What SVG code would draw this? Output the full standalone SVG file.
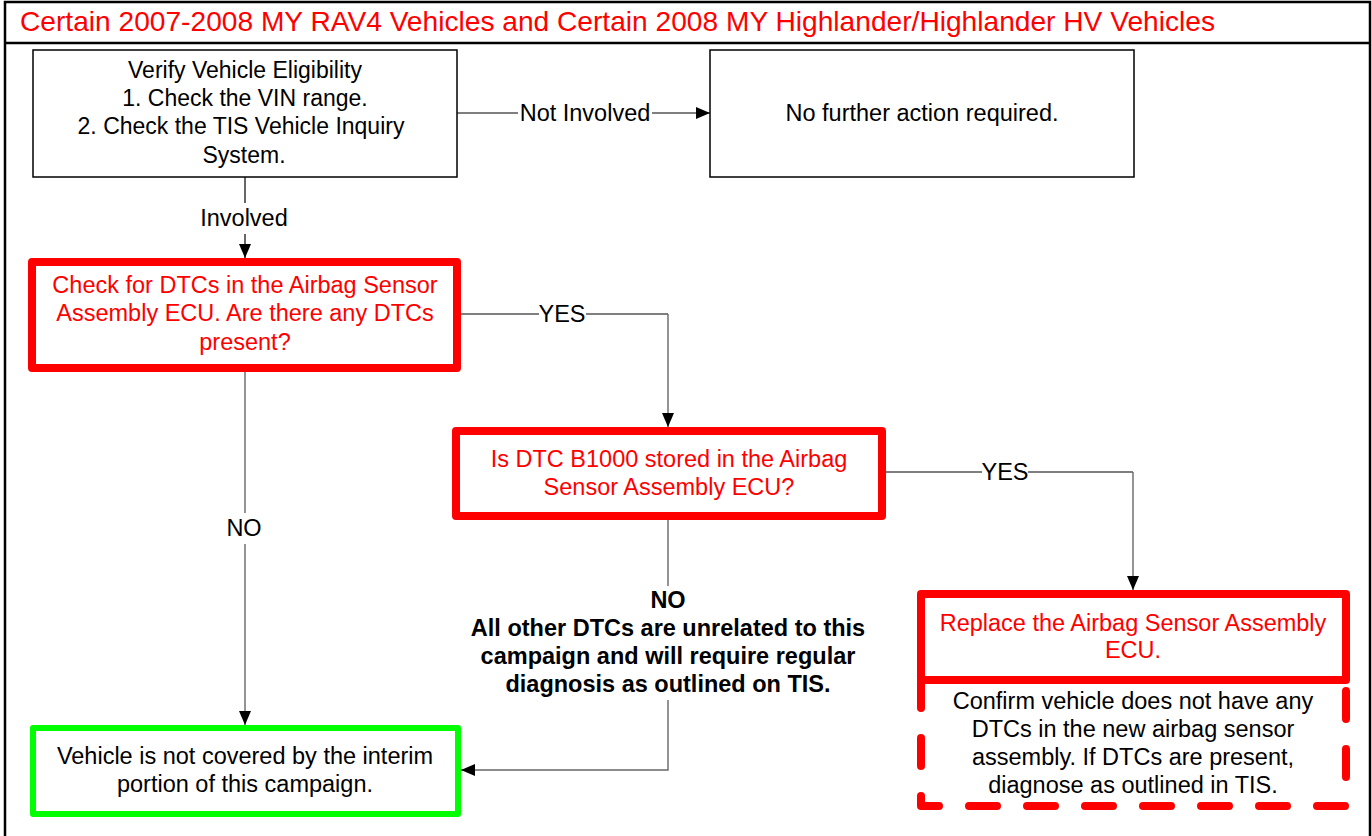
<svg xmlns="http://www.w3.org/2000/svg" width="1372" height="836" viewBox="0 0 1372 836">
<defs>
<style>
text{font-family:"Liberation Sans",Arial,sans-serif;font-size:23.5px;text-anchor:middle;fill:#000}
.t{fill:#f00}
.b{font-weight:bold}
.v{font-size:23px}
.box{fill:#fff;stroke:#000;stroke-width:1.5}
.red{fill:#fff;stroke:#f00;stroke-width:8;stroke-linejoin:round}
.grn{fill:#fff;stroke:#0f0;stroke-width:6;stroke-linejoin:round}
.ln{fill:none;stroke:#000;stroke-width:1.2}
.gl{fill:none;stroke:#666;stroke-width:1.4}
</style>
<marker id="ah" viewBox="0 0 14 12" refX="14" refY="6" markerWidth="14" markerHeight="12" markerUnits="userSpaceOnUse" orient="auto">
<path d="M0,0 L14,6 L0,12 Z" fill="#000"/>
</marker>
</defs>
<rect x="0" y="0" width="1372" height="836" fill="#fff"/>
<g id="frame">
<rect x="5" y="2" width="1365" height="850" fill="none" stroke="#000" stroke-width="2.5"/>
<line x1="5" y1="43" x2="1370" y2="43" stroke="#000" stroke-width="2.5"/>
<text x="20" y="31" class="t" style="text-anchor:start;font-size:28px" textLength="1195" lengthAdjust="spacingAndGlyphs">Certain 2007-2008 MY RAV4 Vehicles and Certain 2008 MY Highlander/Highlander HV Vehicles</text>
</g>
<g id="connectors">
<line class="ln" x1="457" y1="113" x2="518" y2="113"/>
<line class="ln" x1="652" y1="113" x2="710" y2="113" marker-end="url(#ah)"/>
<text x="585" y="121">Not Involved</text>
<line class="ln" x1="245" y1="177" x2="245" y2="203"/>
<line class="ln" x1="245" y1="234" x2="245" y2="258" marker-end="url(#ah)"/>
<text x="244" y="226">Involved</text>
<line class="ln" x1="461" y1="314" x2="539" y2="314"/>
<polyline class="ln" points="586,314 668,314"/>
<line class="gl" x1="668" y1="314" x2="668" y2="427" marker-end="url(#ah)"/>
<text x="562" y="322">YES</text>
<line class="ln" x1="886" y1="472" x2="982" y2="472"/>
<line class="ln" x1="1028" y1="472" x2="1133" y2="472"/>
<line class="gl" x1="1133" y1="472" x2="1133" y2="590" marker-end="url(#ah)"/>
<text x="1005" y="480">YES</text>
<line class="gl" x1="245" y1="372" x2="245" y2="513"/>
<line class="gl" x1="245" y1="544" x2="245" y2="725" marker-end="url(#ah)"/>
<text x="244" y="536">NO</text>
<line class="gl" x1="668" y1="520" x2="668" y2="586"/>
<polyline class="gl" points="668,700 668,770 461,770" marker-end="url(#ah)"/>
<text x="668" y="608" class="b">NO</text>
<text x="668" y="636" class="b">All other DTCs are unrelated to this</text>
<text x="668" y="664" class="b">campaign and will require regular</text>
<text x="668" y="692" class="b">diagnosis as outlined on TIS.</text>
</g>
<g id="verify">
<rect class="box" x="33" y="50" width="424" height="127"/>
<text x="245" y="78" class="v">Verify Vehicle Eligibility</text>
<text x="245" y="106" class="v">1. Check the VIN range.</text>
<text x="241" y="134" class="v">2. Check the TIS Vehicle Inquiry</text>
<text x="244" y="163" class="v">System.</text>
</g>
<g id="nofurther">
<rect class="box" x="710" y="50" width="424" height="127"/>
<text x="922" y="121">No further action required.</text>
</g>
<g id="checkdtc">
<rect class="red" x="32" y="262" width="425" height="106"/>
<text x="245" y="293" class="t">Check for DTCs in the Airbag Sensor</text>
<text x="245" y="321" class="t">Assembly ECU. Are there any DTCs</text>
<text x="245" y="350" class="t">present?</text>
</g>
<g id="b1000">
<rect class="red" x="456" y="431" width="426" height="85"/>
<text x="669" y="467" class="t">Is DTC B1000 stored in the Airbag</text>
<text x="669" y="495" class="t">Sensor Assembly ECU?</text>
</g>
<g id="replace">
<path d="M921,680 L921,806 L1346,806 L1346,680" fill="#fff" stroke="#f00" stroke-width="8" stroke-linecap="round" stroke-linejoin="round" stroke-dasharray="28 30"/>
<rect class="red" x="921" y="594" width="425" height="86"/>
<text x="1133" y="631" class="t">Replace the Airbag Sensor Assembly</text>
<text x="1133" y="658" class="t">ECU.</text>
<text x="1133" y="709">Confirm vehicle does not have any</text>
<text x="1133" y="737">DTCs in the new airbag sensor</text>
<text x="1133" y="765">assembly. If DTCs are present,</text>
<text x="1133" y="793">diagnose as outlined in TIS.</text>
</g>
<g id="notcovered">
<rect class="grn" x="33" y="728" width="425" height="86"/>
<text x="245" y="764">Vehicle is not covered by the interim</text>
<text x="245" y="792">portion of this campaign.</text>
</g>
</svg>
